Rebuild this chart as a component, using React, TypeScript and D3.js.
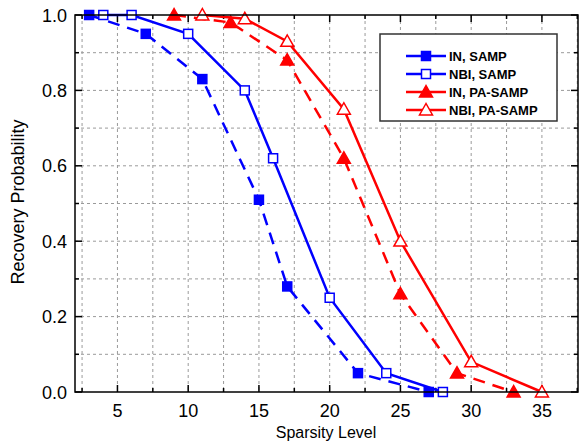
import React from "react";
import * as d3 from "d3";

const inSampX = [3, 7, 11, 15, 17, 22, 27];
const inSampY = [1.0, 0.95, 0.83, 0.51, 0.28, 0.05, 0.0];
const nbiSampX = [4, 6, 10, 14, 16, 20, 24, 28];
const nbiSampY = [1.0, 1.0, 0.95, 0.8, 0.62, 0.25, 0.05, 0.0];
const inPaX = [9, 13, 17, 21, 25, 29, 33];
const inPaY = [1.0, 0.98, 0.88, 0.62, 0.26, 0.05, 0.0];
const nbiPaX = [11, 14, 17, 21, 25, 30, 35];
const nbiPaY = [1.0, 0.99, 0.93, 0.75, 0.4, 0.08, 0.0];

const xTicks = [5, 10, 15, 20, 25, 30, 35];
const xMinor = [2.5, 7.5, 12.5, 17.5, 22.5, 27.5, 32.5, 37.5];
const yTicks = [0, 0.2, 0.4, 0.6, 0.8, 1.0];
const yMinor = [0.1, 0.3, 0.5, 0.7, 0.9];

const series = [
  { name: "IN, SAMP", xs: inSampX, ys: inSampY, color: "#0000ff", dashed: true, marker: "square", filled: true },
  { name: "NBI, SAMP", xs: nbiSampX, ys: nbiSampY, color: "#0000ff", dashed: false, marker: "square", filled: false },
  { name: "IN, PA-SAMP", xs: inPaX, ys: inPaY, color: "#ff0000", dashed: true, marker: "triangle", filled: true },
  { name: "NBI, PA-SAMP", xs: nbiPaX, ys: nbiPaY, color: "#ff0000", dashed: false, marker: "triangle", filled: false },
];

const L = 75, R = 578, T = 15, B = 392;

function Marker({ x, y, type, filled, color }: any) {
  if (type === "square") {
    return <rect x={x - 4.5} y={y - 4.5} width={9} height={9} fill={filled ? color : "#fff"} stroke={color} strokeWidth={1.5} />;
  }
  const s = 6.5;
  const pts = `${x},${y - s} ${x - s},${y + s * 0.75} ${x + s},${y + s * 0.75}`;
  return <polygon points={pts} fill={filled ? color : "#fff"} stroke={color} strokeWidth={1.5} />;
}

export default function App() {
  const x = d3.scaleLinear().domain([2, 37.55]).range([L, R]);
  const y = d3.scaleLinear().domain([0, 1]).range([B, T]);
  const line = d3.line<[number, number]>().x((d) => x(d[0])).y((d) => y(d[1]));
  const font = "'Liberation Sans', Arial, sans-serif";
  const gridX = [...xMinor, ...xTicks].filter((v) => v > 2 && v < 37.55);
  const gridY = [...yMinor, 0.2, 0.4, 0.6, 0.8];

  const legX = 380, legY = 34, legW = 177, legH = 87;
  const rowY = [56, 74, 92, 110];

  return (
    <svg width={581} height={445} style={{ position: "absolute", left: 0, top: 0, background: "#fff" }} fontFamily={font}>
      <rect x={0} y={0} width={581} height={445} fill="#fff" />
      {gridX.map((v) => (
        <line key={"gx" + v} x1={x(v)} x2={x(v)} y1={T} y2={B} stroke="#9a9a9a" strokeWidth={1} strokeDasharray="3,3" />
      ))}
      {gridY.map((v) => (
        <line key={"gy" + v} x1={L} x2={R} y1={y(v)} y2={y(v)} stroke="#9a9a9a" strokeWidth={1} strokeDasharray="3,3" />
      ))}
      {xTicks.map((v) => (
        <g key={"xt" + v}>
          <line x1={x(v)} x2={x(v)} y1={B} y2={B - 7} stroke="#000" strokeWidth={1.5} />
          <line x1={x(v)} x2={x(v)} y1={T} y2={T + 7} stroke="#000" strokeWidth={1.5} />
          <text x={x(v)} y={B + 25} textAnchor="middle" fontSize={18} fill="#000">{v}</text>
        </g>
      ))}
      {xMinor.map((v) => (
        <g key={"xm" + v}>
          <line x1={x(v)} x2={x(v)} y1={B} y2={B - 4} stroke="#000" strokeWidth={1.5} />
          <line x1={x(v)} x2={x(v)} y1={T} y2={T + 4} stroke="#000" strokeWidth={1.5} />
        </g>
      ))}
      {yTicks.map((v) => (
        <g key={"yt" + v}>
          <line x1={L} x2={L + 7} y1={y(v)} y2={y(v)} stroke="#000" strokeWidth={1.5} />
          <line x1={R} x2={R - 7} y1={y(v)} y2={y(v)} stroke="#000" strokeWidth={1.5} />
          <text x={L - 8} y={y(v) + 6.5} textAnchor="end" fontSize={18} fill="#000">{v.toFixed(1)}</text>
        </g>
      ))}
      {yMinor.map((v) => (
        <g key={"ym" + v}>
          <line x1={L} x2={L + 4} y1={y(v)} y2={y(v)} stroke="#000" strokeWidth={1.5} />
          <line x1={R} x2={R - 4} y1={y(v)} y2={y(v)} stroke="#000" strokeWidth={1.5} />
        </g>
      ))}
      {series.map((s) => {
        const pts = s.xs.map((v, i) => [v, s.ys[i]] as [number, number]);
        return (
          <g key={s.name}>
            <path d={line(pts) || ""} fill="none" stroke={s.color} strokeWidth={2.5} strokeDasharray={s.dashed ? "12,8" : undefined} />
            {pts.map((p, i) => (
              <Marker key={i} x={x(p[0])} y={y(p[1])} type={s.marker} filled={s.filled} color={s.color} />
            ))}
          </g>
        );
      })}
      <rect x={L} y={T} width={R - L} height={B - T} fill="none" stroke="#000" strokeWidth={1.5} />
      <rect x={legX} y={legY} width={legW} height={legH} fill="#fff" stroke="#333" strokeWidth={1.5} />
      {series.map((s, i) => (
        <g key={"lg" + i}>
          <line x1={406} x2={446} y1={rowY[i]} y2={rowY[i]} stroke={s.color} strokeWidth={2.5} />
          <Marker x={426} y={rowY[i]} type={s.marker} filled={s.filled} color={s.color} />
          <text x={449} y={rowY[i] + 5} fontSize={13} fontWeight="bold" fill="#000">{s.name}</text>
        </g>
      ))}
      <text x={326} y={438} textAnchor="middle" fontSize={16} fill="#000">Sparsity Level</text>
      <text transform="translate(24,202) rotate(-90)" textAnchor="middle" fontSize={18} fill="#000">Recovery Probability</text>
    </svg>
  );
}
